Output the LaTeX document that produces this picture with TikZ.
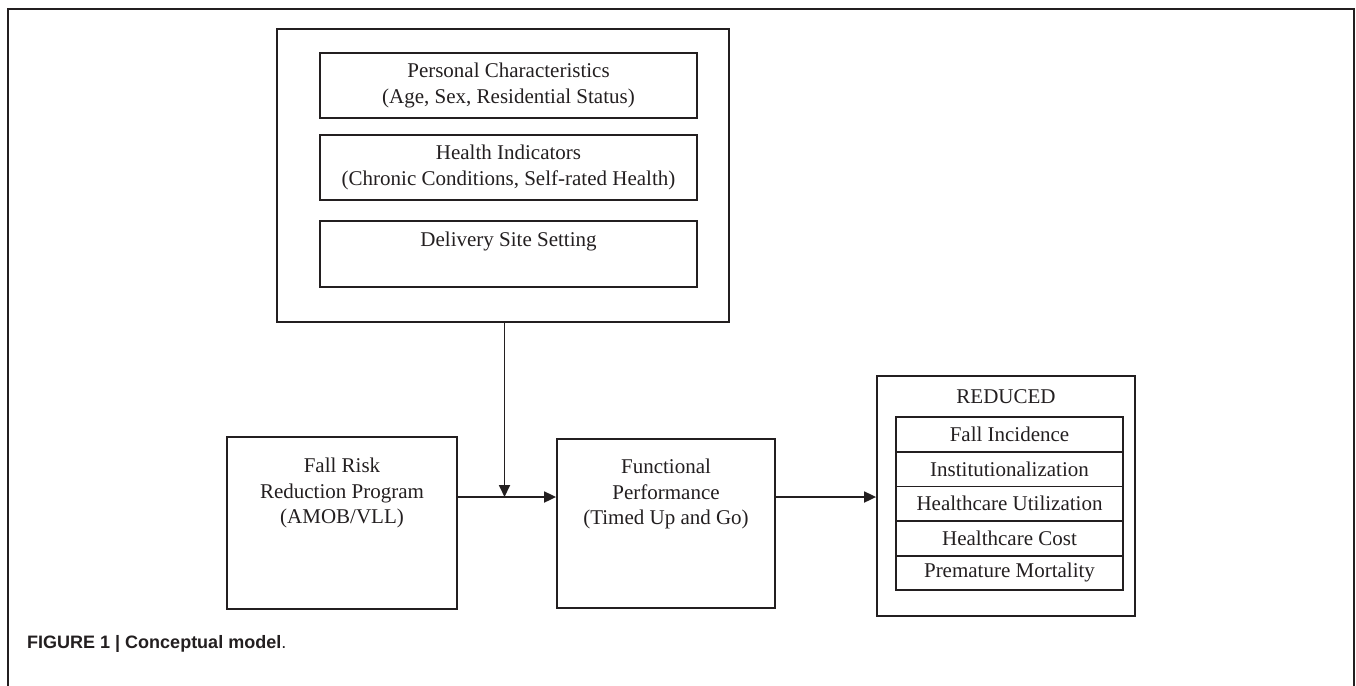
\documentclass[tikz,border=0pt]{standalone}
\usepackage{fontspec}
\setmainfont{Liberation Serif}
\newfontfamily\capfont{Liberation Sans}
\usetikzlibrary{arrows.meta}
\definecolor{ink}{HTML}{231F20}
\begin{document}
\begin{tikzpicture}[x=1pt,y=-1pt,
  box/.style={draw=ink,line width=1.8pt,inner sep=0pt},
  txt/.style={text=ink,font=\fontsize{21}{25.5}\selectfont,align=center,inner sep=0pt},
  conn/.style={draw=ink,line width=1.8pt},
  arr/.style={conn,-{Triangle[length=12pt,width=11pt]}}]
\useasboundingbox (0,0) rectangle (1356,685);
% outer frame (open at the bottom)
\coordinate (fbl) at (8,690);
\coordinate (ftl) at (8,9);
\coordinate (ftr) at (1354,9);
\coordinate (fbr) at (1354,690);
\draw[conn] (fbl) -- (ftl) -- (ftr) -- (fbr);
% context box
\node[box,minimum width=452pt,minimum height=293pt] (ctx) at (503,175.5) {};
\node[box,txt,minimum width=377pt,minimum height=65pt] (pers) at (508.5,85.5) {Personal Characteristics\\(Age, Sex, Residential Status)};
\node[box,txt,minimum width=377pt,minimum height=65pt] (health) at (508.5,167.5) {Health Indicators\\(Chronic Conditions, Self-rated Health)};
\node[box,minimum width=377pt,minimum height=66pt] (site) at (508.5,254) {};
\node[txt] (sitet) at (508.5,241) {Delivery Site Setting};
% program box
\node[box,minimum width=230pt,minimum height=172pt] (prog) at (342,523) {};
\node[txt] (progt) at (342,493) {Fall Risk\\Reduction Program\\(AMOB/VLL)};
% functional box
\node[box,minimum width=218pt,minimum height=169pt] (func) at (666,523.5) {};
\node[txt] (funct) at (666,494) {Functional\\Performance\\(Timed Up and Go)};
% reduced box
\node[box,minimum width=258pt,minimum height=240pt] (red) at (1006,496) {};
\node[txt] (redt) at (1006,397) {REDUCED};
\node[box,txt,minimum width=227pt,minimum height=34.6pt] (r1) at (1009.5,434.5) {Fall Incidence};
\node[box,txt,minimum width=227pt,minimum height=34.6pt] (r2) at (1009.5,469.1) {Institutionalization};
\node[box,txt,minimum width=227pt,minimum height=34.6pt] (r3) at (1009.5,503.7) {Healthcare Utilization};
\node[box,txt,minimum width=227pt,minimum height=34.6pt] (r4) at (1009.5,538.3) {Healthcare Cost};
\node[box,txt,minimum width=227pt,minimum height=34.6pt] (r5) at (1009.5,572.9) {Premature Mortality};
% connectors
\coordinate (join) at (504.5,497);
\draw[arr] (join |- ctx.south) -- (join);
\draw[arr] (prog.east |- join) -- (func.west |- join);
\draw[arr] (func.east |- join) -- (red.west |- join);
% caption
\node[anchor=base west,inner sep=0pt,text=ink,font=\capfont\bfseries\fontsize{18}{20}\selectfont] (cap) at (27,648) {FIGURE 1 | Conceptual model\mdseries.};
\end{tikzpicture}
\end{document}
